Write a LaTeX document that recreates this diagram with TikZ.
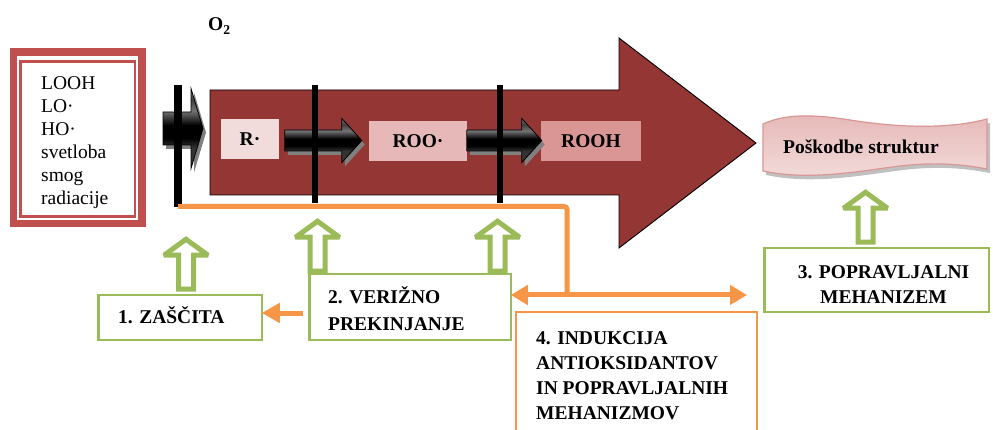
\documentclass[tikz,border=0pt]{standalone}
\usepackage{fontspec}
\setmainfont{Liberation Serif}
\usetikzlibrary{arrows.meta,calc}
\definecolor{dred}{HTML}{943634}
\definecolor{rbord}{HTML}{C0504D}
\definecolor{grn}{HTML}{9BBB59}
\definecolor{org}{HTML}{F79646}
\definecolor{pk0}{HTML}{F8EAEA}
\definecolor{pk1}{HTML}{F2DCDB}
\definecolor{pk2}{HTML}{E6B9B8}
\definecolor{pk3}{HTML}{D99694}
\pgfdeclareverticalshading{blkshade}{100bp}{color(0bp)=(black!80); color(25bp)=(black!80); color(38bp)=(black!80); color(44bp)=(black); color(52bp)=(black); color(61bp)=(black!55); color(68bp)=(black!75); color(75bp)=(black!55); color(100bp)=(black!55)}
\tikzset{
  bigarr/.style={fill=dred, draw=black, line width=0.9},
  spec/.style={inner sep=0, minimum height=40, font=\fontsize{19.5}{25}\selectfont\bfseries},
  bar/.style={line width=6.5, draw=black},
  gbox/.style={draw=grn, line width=2.5, fill=white, inner sep=0, outer sep=0},
  obox/.style={draw=org, line width=2.5, fill=white, inner sep=0, outer sep=0},
  oline/.style={draw=org, line width=5},
  btxt/.style={inner sep=0, align=left, font=\fontsize{19.5}{25}\selectfont\bfseries},
  pics/gup/.style={code={\draw[draw=grn, line width=5, fill=white, miter limit=3] (-7.5,0) -- (-7.5,-34) -- (-22,-34) -- (0,-50) -- (22,-34) -- (7.5,-34) -- (7.5,0) -- cycle;}},
  pics/blk/.style n args={4}{code={
    \fill[black!50] (-#1+3,-#2+4) -- (-#4+3,-#2+4) -- (-#4+3,-#3+4) -- (3,4) -- (-#4+3,#3+4) -- (-#4+3,#2+4) -- (-#1+3,#2+4) -- cycle;
    \shadedraw[draw=black, line width=0.8, shading=blkshade] (-#1,-#2) -- (-#4,-#2) -- (-#4,-#3) -- (0,0) -- (-#4,#3) -- (-#4,#2) -- (-#1,#2) -- cycle;
  }},
}
\begin{document}
\begin{tikzpicture}[x=1pt,y=-1pt]
\clip (0,0) rectangle (993,430);
\fill[white] (0,0) rectangle (993,430);

% source box
\node[draw=rbord, line width=7.5, minimum width=128.3, minimum height=171.5, inner sep=0, outer sep=0] (src) at (77.85,137.75) {};
\draw[draw=rbord, line width=2.5] ($(src.north west)+(7,9.3)$) rectangle ($(src.south east)+(-7,-7)$);
\node[inner sep=0, align=left, anchor=north west, font=\fontsize{19.5}{23}\selectfont] (srct) at (41,73.2)
  {\strut LOOH\\\strut LO·\\\strut HO·\\\strut svetloba\\\strut smog\\\strut radiacije};

% O2
\node[btxt, anchor=base west] (o2) at (208,31) {O\textsubscript{2}};

% big arrow
\draw[bigarr] (210,90) -- (619,90) -- (619,38) -- (756,143) -- (619,248) -- (619,195) -- (210,195) -- cycle;
\coordinate (bigtip) at (756,143);

% species
\node[spec, fill=pk1, minimum width=58] (r) at (250,139) {R·};
\node[spec, fill=pk2, minimum width=98] (roo) at (418,141) {ROO·};
\node[spec, fill=pk3, minimum width=100] (rooh) at (591,141) {ROOH};

% black arrows
\coordinate (lt) at (203,128.5);
\pic at (lt) {blk={40}{16.5}{40}{12}};
\pic at ($(roo.west)+(-7,-0.5)$) {blk={77}{10.5}{22}{20}};
\pic at ($(rooh.west)+(1,-0.5)$) {blk={75}{10.5}{22}{20}};

% bars
\draw[bar, line width=7.5] (178,85) -- (178,207);
\draw[bar] (315,85) -- (315,203);
\draw[bar] (500,85) -- (500,203);

% damage banner
\fill[black!35, opacity=0.7, shift={(3,4)}] (763,124) .. controls (785,114) and (812,114) .. (850,120) .. controls (900,128) and (950,129) .. (987,119) -- (987,169) .. controls (960,164) and (935,162) .. (900,166) .. controls (860,171) and (810,181) .. (763,171) -- cycle;
\shadedraw[draw=pk3, line width=1.2, top color=pk2, middle color=pk1!60!white, bottom color=pk1] (763,124) .. controls (785,114) and (812,114) .. (850,120) .. controls (900,128) and (950,129) .. (987,119) -- (987,169) .. controls (960,164) and (935,162) .. (900,166) .. controls (860,171) and (810,181) .. (763,171) -- cycle;
\node[btxt, anchor=base west] (dmg) at (783,153.3) {Poškodbe struktur};

% boxes
\node[gbox, minimum width=163.5, minimum height=44.5] (b1) at (180,317.5) {};
\node[gbox, minimum width=201.5, minimum height=65.5] (b2) at (410,307) {};
\node[gbox, minimum width=224.5, minimum height=63.5] (b3) at (876.5,280) {};
\node[obox, minimum width=241, minimum height=150, anchor=north west] (b4) at (516,312) {};

% orange connectors
\coordinate (oL) at (178,206.5);
\coordinate (oR) at (567,206.5);
\coordinate (oJ) at (567,295);
\coordinate (oE) at (747,295);
\draw[oline, rounded corners=3] (oL) -- (oR) -- (oJ);
\draw[oline, {Triangle[length=17pt,width=19pt]}-{Triangle[length=17pt,width=19pt]}] (b2.east |- oJ) -- (oE);
\coordinate (a0) at ($(b2.west)+(-6,6)$);
\draw[oline, -{Triangle[length=18pt,width=19pt]}] (a0) -- (b1.east |- a0);

% green hollow arrows
\pic at ($(b1.north)+(6,-6)$) {gup};
\pic at ($(b2.north)+(-92.5,-3)$) {gup};
\pic at ($(b2.north)+(87.5,-3)$) {gup};
\pic at ($(b3.north)+(-11,-6)$) {gup};

% texts
\node[btxt, anchor=base west] (t1) at (118,323.6) {1. ZAŠČITA};
\node[btxt, anchor=north west, font=\fontsize{19.5}{26.5}\selectfont\bfseries] (t2) at (328,285.1) {\strut 2. VERIŽNO\\\strut PREKINJANJE};
\node[btxt, align=center, anchor=north] (t3) at (883.5,261.1) {\strut 3. POPRAVLJALNI\\\strut MEHANIZEM};
\node[btxt, anchor=north west] (t4) at (536,327.1) {\strut 4. INDUKCIJA\\\strut ANTIOKSIDANTOV\\\strut IN POPRAVLJALNIH\\\strut MEHANIZMOV};
\end{tikzpicture}
\end{document}
